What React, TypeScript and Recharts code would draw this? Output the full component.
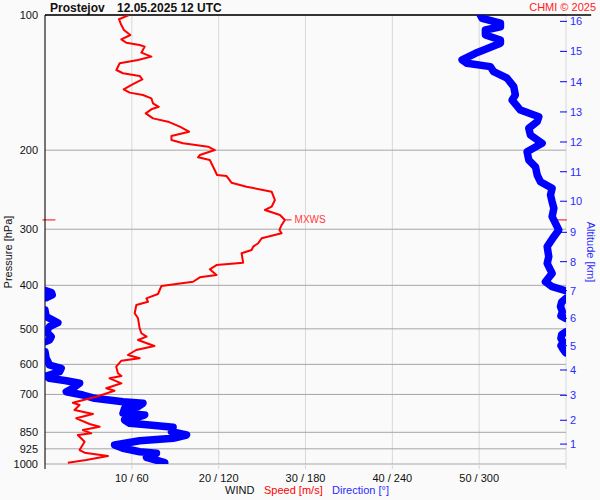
import React from 'react';
import {
  ScatterChart,
  Scatter,
  XAxis,
  YAxis,
  CartesianGrid,
  ReferenceLine,
  Customized,
} from 'recharts';

// ---- Axis ticks ----
const PRESSURE_TICKS = [100, 200, 300, 400, 500, 600, 700, 850, 925, 1000];
const SPEED_TICKS = [0, 10, 20, 30, 40, 50, 60];
const ALTITUDE_KM = [1, 2, 3, 4, 5, 6, 7, 8, 9, 10, 11, 12, 13, 14, 15, 16];
const ALTITUDE_PRESSURE = [
  902.9, 799.0, 703.1, 617.5, 545.1, 473.7, 411.1, 354.3, 304.8, 259.9, 223.4,
  191.8, 164.4, 140.8, 120.5, 103.3,
];

// ---- Wind speed profile (hPa, m/s) ----
const SPEED_PRESSURE = [
  100, 102.2, 105.3, 108.0, 110.8, 113.3, 115.3, 116.6, 117.6, 121.3, 123.8,
  125.9, 128.1, 132.6, 134.8, 136.7, 139.1, 142.5, 146.4, 148.9, 150.7, 153.3,
  157.3, 160.1, 162.2, 165.6, 169.9, 172.8, 177.3, 181.9, 186.0, 189.9, 193.1,
  196.5, 199.9, 205.0, 207.5, 210.4, 217.8, 227.2, 228.4, 236.3, 241.2, 247.5,
  258.3, 267.3, 271.8, 278.9, 286.1, 293.5, 301.1, 306.3, 314.3, 322.4, 328.1,
  333.7, 339.4, 356.2, 360.5, 368.5, 379.5, 384.0, 392.7, 401.4, 418.2, 427.6,
  435.1, 442.5, 461.7, 473.7, 498.6, 511.5, 520.5, 529.4, 546.0, 557.3, 571.8,
  581.5, 588.7, 607.1, 628.0, 636.8, 644.4, 661.1, 678.2, 686.6, 708.1, 717.6,
  730.2, 738.9, 758.1, 773.8, 791.1, 814.5, 825.9, 840.0, 854.4, 861.9, 892.0,
  930.8, 943.8, 959.9, 979.7, 993.4,
];
const SPEED_MS = [
  9.67, 8.52, 8.79, 9.09, 9.83, 8.79, 9.37, 10.9, 11.48, 11.1, 12.25, 10.71,
  8.6, 8.22, 8.98, 10.9, 11.21, 10.13, 9.06, 9.75, 11.28, 12.25, 12.44, 13.1,
  12.25, 11.6, 12.44, 14.17, 15.52, 16.59, 14.56, 14.56, 15.9, 18.78, 19.56,
  17.83, 17.63, 18.98, 19.36, 19.82, 20.91, 21.48, 23.21, 26.1, 26.48, 26.1,
  25.33, 27.06, 27.63, 27.25, 27.0, 27.25, 24.95, 24.55, 23.98, 23.79, 22.64,
  22.82, 19.75, 18.98, 19.75, 17.83, 17.05, 13.41, 13.01, 11.68, 11.86, 10.52,
  10.33, 10.71, 10.9, 11.1, 11.7, 10.71, 12.6, 10.5, 9.55, 10.9, 8.8, 8.2, 8.4,
  8.8, 7.44, 8.8, 7.06, 8.0, 5.91, 4.75, 3.21, 3.98, 3.4, 5.52, 3.6, 5.13,
  6.29, 4.36, 5.33, 3.78, 4.56, 3.98, 4.56, 7.25, 4.75, 2.63,
];

// ---- Wind direction profile (hPa, degrees), split where it wraps 360/0 ----
const DIR_UPPER_P = [
  100, 101.7, 104.3, 106.2, 108.0, 110.8, 113.7, 115.6, 119.7, 121.7, 125.9,
  128.1, 130.3, 133.7, 138.3, 144.4, 150.7, 154.7, 162.8, 168.5, 172.8, 178.8,
  185.0, 193.1, 201.6, 210.4, 217.8, 227.2, 235.1, 243.2, 251.7, 260.5, 269.5,
  281.3, 291.0, 301.1, 311.7, 328.1, 345.4, 357.3, 376.1, 392.7, 402.8, 411.1,
];
const DIR_UPPER_DEG = [
  300.8, 302.0, 314.7, 314.7, 304.3, 304.3, 314.7, 314.7, 303.1, 297.4, 288.2,
  291.6, 307.7, 310.0, 319.3, 323.9, 325.0, 322.8, 328.5, 341.2, 340.1, 334.3,
  335.4, 343.5, 333.1, 334.3, 338.9, 340.1, 342.3, 350.4, 349.3, 350.4, 351.6,
  350.4, 352.7, 355.0, 351.6, 347.0, 348.1, 347.0, 350.4, 345.8, 350.4, 359.7,
];
const DIR_WRAP1_P = [411, 415, 420, 426];
const DIR_WRAP1_DEG = [0.3, 4.5, 5.0, 1.0];
const DIR_RIGHT1_P = [428, 436, 446, 458, 468, 474];
const DIR_RIGHT1_DEG = [359.8, 357.0, 356.2, 357.5, 356.5, 359.8];
const DIR_WRAP2_P = [454, 469.8, 484.6, 494.6, 507.4, 520.5, 529.4, 534];
const DIR_WRAP2_DEG = [0, 0.8, 8.9, 3.1, 0.8, 4.3, 3.1, 0];
const DIR_RIGHT2_P = [508, 515, 525, 535, 545, 555, 565];
const DIR_RIGHT2_DEG = [359.8, 357.0, 356.5, 358.0, 356.5, 358.0, 359.8];
const DIR_LOWER_P = [
  562.2, 581.5, 601.9, 612.2, 623.0, 636.8, 644.4, 652.4, 661.1, 678.2, 690.2,
  702.0, 714.0, 726.5, 732.5, 745.4, 751.5, 771.0, 777.8, 791.1, 798.0, 811.6,
  818.7, 828.4, 847.4, 861.9, 876.6, 887.5, 907.3, 922.6, 939.0, 946.8, 966.2,
  993.4,
];
const DIR_LOWER_DEG = [
  0, 0.8, 3.1, 11.2, 10.0, 0.8, 3.1, 14.7, 23.9, 19.2, 14.7, 26.2, 34.3, 53.9,
  67.7, 64.2, 55.0, 53.9, 68.9, 62.0, 55.0, 58.5, 72.3, 88.5, 87.4, 97.8, 88.5,
  65.4, 48.1, 53.9, 65.4, 77.0, 70.1, 82.7,
];

// ---- Max wind marker ----
const MXWS_PRESSURE = 286;
const MXWS_SPEED = 27.6;

const toRows = (ps: number[], vs: number[]) => ps.map((p, i) => ({ p, v: vs[i] }));

const speedData = toRows(SPEED_PRESSURE, SPEED_MS);
const dirSegments = [
  toRows(DIR_UPPER_P, DIR_UPPER_DEG),
  toRows(DIR_WRAP1_P, DIR_WRAP1_DEG),
  toRows(DIR_RIGHT1_P, DIR_RIGHT1_DEG),
  toRows(DIR_WRAP2_P, DIR_WRAP2_DEG),
  toRows(DIR_RIGHT2_P, DIR_RIGHT2_DEG),
  toRows(DIR_LOWER_P, DIR_LOWER_DEG),
];

const RED = '#ff0000';
const BLUE = '#0000ff';
const FONT = '"Liberation Sans", Arial, sans-serif';

const NoShape = () => <g />;

const SpeedTick = (props: any) => {
  const { x, y, payload } = props;
  const v = payload.value;
  const show = v > 0 && v < 60;
  return (
    <g>
      <line x1={x} y1={y} x2={x} y2={y + 5} stroke={v === 0 ? '#000' : '#d6d6d6'} />
      {show && (
        <text x={x} y={y + 18} textAnchor="middle" fontSize={11} fill="#111">
          {`${v} / ${v * 6}`}
        </text>
      )}
    </g>
  );
};

const AltTick = (props: any) => {
  const { x, y, payload } = props;
  const i = ALTITUDE_PRESSURE.indexOf(payload.value);
  return (
    <g>
      <line x1={x - 6} y1={y} x2={x + 1} y2={y} stroke={BLUE} />
      <text x={x + 4} y={y + 4} fontSize={11} fill="#2a2aff">
        {ALTITUDE_KM[i]}
      </text>
    </g>
  );
};

const Texts = () => (
  <g fontFamily={FONT}>
    <text x={50} y={12} fontSize={12} fontWeight="bold" fill="#111">Prostejov</text>
    <text x={117} y={12} fontSize={12} fontWeight="bold" fill="#111">12.05.2025 12 UTC</text>
    <text x={596} y={11} fontSize={11} textAnchor="end" fill="#ff2020">CHMI © 2025</text>
    <text x={225} y={494} fontSize={11} fill="#111">WIND</text>
    <text x={264} y={494} fontSize={11} fill={RED}>Speed [m/s]</text>
    <text x={332} y={494} fontSize={11} fill="#2a2aff">Direction [°]</text>
    <text x={12} y={252} fontSize={11} fill="#111" textAnchor="middle" transform="rotate(-90 12 252)">
      Pressure [hPa]
    </text>
    <text x={587} y={252} fontSize={11} fill="#2a2aff" textAnchor="middle" transform="rotate(90 587 252)">
      Altitude [km]
    </text>
  </g>
);

export default function App() {
  return (
    <div
      style={{
        position: 'absolute',
        left: 0,
        top: 0,
        width: 600,
        height: 500,
        background: '#fafafa',
        fontFamily: FONT,
      }}
    >
      <ScatterChart width={600} height={500} margin={{ top: 15, right: 4, bottom: 6, left: 5 }}>
        <CartesianGrid xAxisId="x" yAxisId="p" horizontal={false} vertical stroke="#d8d8d8" />
        <CartesianGrid xAxisId="x" yAxisId="p" horizontal vertical={false} stroke="#a6a6a6" />
        <XAxis
          xAxisId="x"
          type="number"
          dataKey="v"
          domain={[0, 60]}
          ticks={SPEED_TICKS}
          interval={0}
          allowDataOverflow
          height={30}
          axisLine={false}
          tickLine={false}
          tickSize={0}
          tickMargin={0}
          tick={<SpeedTick />}
        />
        <XAxis
          xAxisId="dir"
          orientation="top"
          type="number"
          dataKey="v"
          domain={[0, 360]}
          allowDataOverflow
          hide
        />
        <YAxis
          yAxisId="p"
          type="number"
          dataKey="p"
          scale="log"
          domain={[100, 1000]}
          reversed
          ticks={PRESSURE_TICKS}
          interval={0}
          allowDataOverflow
          width={40}
          axisLine={{ stroke: '#000' }}
          tickLine={false}
          tickSize={6}
          tickMargin={1}
          tick={{ fontSize: 11, fill: '#111' }}
        />
        <YAxis
          yAxisId="alt"
          orientation="right"
          type="number"
          dataKey="p"
          scale="log"
          domain={[100, 1000]}
          reversed
          ticks={ALTITUDE_PRESSURE}
          interval={0}
          allowDataOverflow
          width={30}
          axisLine={false}
          tickLine={false}
          tickSize={0}
          tickMargin={0}
          tick={<AltTick />}
        />
        {dirSegments.map((seg, i) => (
          <Scatter
            key={`dir${i}`}
            data={seg}
            xAxisId="dir"
            yAxisId="p"
            fill={BLUE}
            shape={NoShape}
            line={{ stroke: BLUE, strokeWidth: 7.5, strokeLinecap: 'round', strokeLinejoin: 'round' }}
            isAnimationActive={false}
          />
        ))}
        <Scatter
          data={speedData}
          xAxisId="x"
          yAxisId="p"
          fill={RED}
          shape={NoShape}
          line={{ stroke: RED, strokeWidth: 2, strokeLinejoin: 'round' }}
          isAnimationActive={false}
        />
        <ReferenceLine
          xAxisId="x"
          yAxisId="p"
          segment={[{ x: 0, y: 100 }, { x: 62.9, y: 100 }]}
          stroke="#000"
          strokeWidth={1.5}
          ifOverflow="visible"
        />
        <ReferenceLine
          xAxisId="x"
          yAxisId="p"
          segment={[{ x: -0.3, y: MXWS_PRESSURE }, { x: 1.2, y: MXWS_PRESSURE }]}
          stroke={RED}
          ifOverflow="visible"
        />
        <ReferenceLine
          xAxisId="x"
          yAxisId="p"
          segment={[{ x: 58.75, y: MXWS_PRESSURE }, { x: 60.1, y: MXWS_PRESSURE }]}
          stroke={RED}
          ifOverflow="visible"
        />
        <ReferenceLine
          xAxisId="x"
          yAxisId="p"
          segment={[{ x: MXWS_SPEED + 0.1, y: MXWS_PRESSURE }, { x: MXWS_SPEED + 0.8, y: MXWS_PRESSURE }]}
          stroke={RED}
          ifOverflow="visible"
          label={{ value: 'MXWS', position: 'right', offset: 3, fill: '#ff3a3a', fontSize: 10 }}
        />
        <Customized component={Texts} />
      </ScatterChart>
    </div>
  );
}
